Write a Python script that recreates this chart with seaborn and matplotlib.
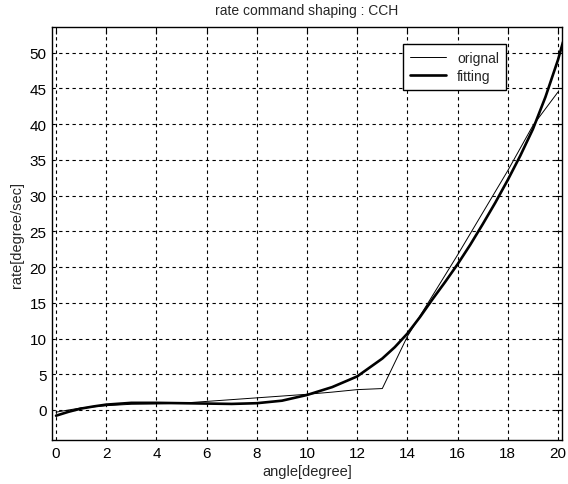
import matplotlib
matplotlib.use("Agg")
import matplotlib.pyplot as plt
import seaborn as sns
import pandas as pd

# ---- data ----
orig_x = [0, 1, 2, 3, 4, 5, 6, 7, 8, 9, 10, 11, 12, 13, 14, 15, 16, 17, 18, 19, 20]
orig_y = [-0.3, 0.3, 0.6, 0.8, 0.85, 0.95, 1.2, 1.45, 1.7, 1.95, 2.2, 2.5, 2.85, 3.0,
          10.3, 16.0, 21.7, 27.6, 33.5, 39.8, 44.5]

fit_x = [0, 0.5, 1, 1.5, 2, 3, 4, 5, 6, 7, 8, 9, 10, 11, 12, 13, 13.5, 14, 14.5, 15,
         15.5, 16, 16.5, 17, 17.5, 18, 18.5, 19, 19.5, 20, 20.2]
fit_y = [-0.8, -0.25, 0.2, 0.5, 0.75, 1.0, 1.0, 0.95, 0.9, 0.85, 0.95, 1.3, 2.1, 3.2,
         4.7, 7.2, 8.8, 10.7, 13.0, 15.5, 17.9, 20.4, 23.1, 26.0, 29.0, 32.2, 35.6,
         39.3, 43.8, 49.0, 51.5]

x_ticks = [0, 2, 4, 6, 8, 10, 12, 14, 16, 18, 20]
y_ticks = [0, 5, 10, 15, 20, 25, 30, 35, 40, 45, 50]

title = "rate command shaping : CCH"
xlabel = "angle[degree]"
ylabel = "rate[degree/sec]"
series_names = ["orignal", "fitting"]

# ---- styling ----
sns.set_style("white")
plt.rcParams["font.family"] = ["Liberation Sans", "DejaVu Sans"]

fig = plt.figure(figsize=(5.68, 4.85), dpi=100)
ax = fig.add_axes([52 / 568, 1 - 441 / 485, 510 / 568, 413 / 485])

df_o = pd.DataFrame({"x": orig_x, "y": orig_y})
df_f = pd.DataFrame({"x": fit_x, "y": fit_y})

sns.lineplot(data=df_o, x="x", y="y", ax=ax, color="black", linewidth=0.7,
             label=series_names[0], sort=False, estimator=None)
sns.lineplot(data=df_f, x="x", y="y", ax=ax, color="black", linewidth=1.9,
             label=series_names[1], sort=False, estimator=None)

ax.set_xlim(-0.16, 20.16)
ax.set_ylim(-4.2, 53.6)
ax.set_xticks(x_ticks)
ax.set_yticks(y_ticks)
ax.set_xticklabels([str(t) for t in x_ticks])
ax.set_yticklabels([str(t) for t in y_ticks])

ax.grid(True, color="black", linestyle=(0, (3, 3)), linewidth=0.8)
ax.set_axisbelow(True)

for s in ax.spines.values():
    s.set_visible(True)
    s.set_color("black")
    s.set_linewidth(1.0)

ax.tick_params(direction="in", length=5, width=0.8, top=True, right=True,
               labelsize=11, colors="black", pad=4)

ax.set_title(title, fontsize=10, pad=9)
ax.set_xlabel(xlabel, fontsize=10.5, labelpad=3)
ax.set_ylabel(ylabel, fontsize=10.5, labelpad=4)

leg = ax.legend(loc="upper right", bbox_to_anchor=(0.89, 0.959), borderaxespad=0,
                fontsize=10, frameon=True, fancybox=False, handlelength=2.6,
                borderpad=0.5, labelspacing=0.3)
leg.get_frame().set_edgecolor("black")
leg.get_frame().set_linewidth(1.0)
leg.get_frame().set_alpha(1)

fig.savefig("out.png", dpi=100)
